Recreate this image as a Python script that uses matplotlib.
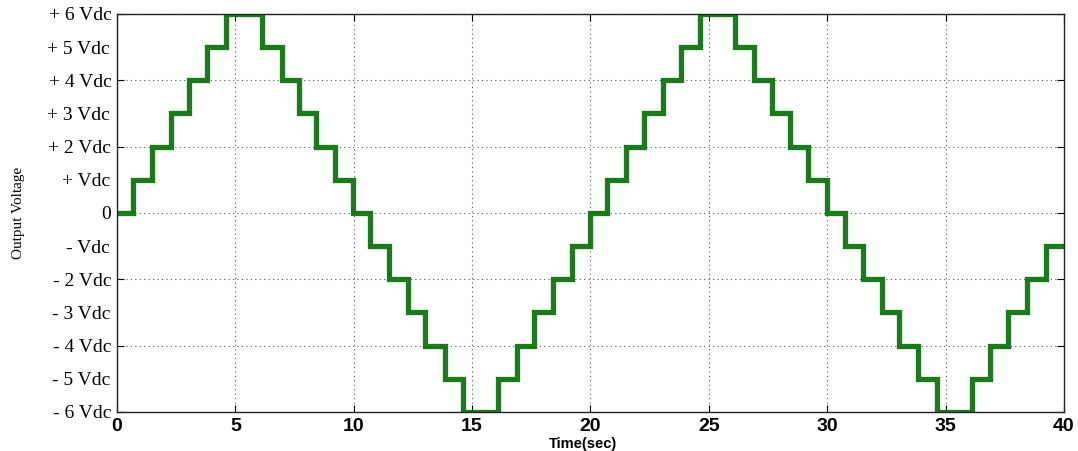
import numpy as np
import matplotlib.pyplot as plt

# ------------------------------------------------------------------------------
# staircase output voltage (levels in multiples of Vdc), switching instants in sec

switch_times = [0.69, 1.46, 2.27, 3.04, 3.79, 4.59,
                6.11, 6.96, 7.69, 8.39, 9.21, 9.96,
                10.69, 11.50, 12.30, 13.01, 13.85, 14.63,
                16.11, 16.88, 17.61, 18.40, 19.20, 19.98,
                20.71, 21.50, 22.27, 23.08, 23.81, 24.63,
                26.10, 26.90, 27.65, 28.43, 29.20, 29.98,
                30.75, 31.50, 32.30, 33.04, 33.85, 34.62,
                36.13, 36.87, 37.65, 38.45, 39.23]
levels = [0, 1, 2, 3, 4, 5, 6,
          5, 4, 3, 2, 1, 0,
          -1, -2, -3, -4, -5, -6,
          -5, -4, -3, -2, -1, 0,
          1, 2, 3, 4, 5, 6,
          5, 4, 3, 2, 1, 0,
          -1, -2, -3, -4, -5, -6,
          -5, -4, -3, -2, -1]

y_levels = [6, 5, 4, 3, 2, 1, 0, -1, -2, -3, -4, -5, -6]
y_labels = ['+ 6 Vdc', '+ 5 Vdc', '+ 4 Vdc', '+ 3 Vdc', '+ 2 Vdc', '+ Vdc', '0',
            '- Vdc', '- 2 Vdc', '- 3 Vdc', '- 4 Vdc', '- 5 Vdc', '- 6 Vdc']
x_ticks = [0, 5, 10, 15, 20, 25, 30, 35, 40]

# ------------------------------------------------------------------------------

t = [0.0] + switch_times + [40.0]
v = levels + [levels[-1]]

fig = plt.figure(figsize=(10.78, 4.51), dpi=100)
ax = fig.add_axes([0.1085, 0.0865, 0.8785, 0.8825])

ax.step(t, v, where='post', color='#1b7a1b', linewidth=3.8, solid_joinstyle='miter')

ax.set_xlim(0, 40)
ax.set_ylim(-6, 6)

# even levels carry ticks + grid, odd levels only labels
major = [y for y in y_levels if y % 2 == 0]
minor = [y for y in y_levels if y % 2 != 0]
ax.set_yticks(major)
ax.set_yticklabels([y_labels[y_levels.index(y)] for y in major],
                   family='Liberation Serif', fontsize=14)
ax.set_yticks(minor, minor=True)
ax.set_yticklabels([y_labels[y_levels.index(y)] for y in minor], minor=True,
                   family='Liberation Serif', fontsize=14)
ax.tick_params(axis='y', which='minor', length=0, pad=5)

ax.set_xticks(x_ticks)
ax.set_xticklabels([str(x) for x in x_ticks], family='Liberation Sans',
                   fontweight='bold', fontsize=14)

ax.tick_params(which='major', direction='in', length=5, width=0.8,
               top=True, right=True, pad=4)
ax.grid(True, which='major', linestyle=(0, (1, 3)), color='#555555', linewidth=0.8)

for s in ax.spines.values():
    s.set_linewidth(1.0)
    s.set_color('#222222')

ax.set_ylabel('Output Voltage', family='Liberation Serif', fontsize=11)
ax.yaxis.set_label_coords(-0.097, 0.5)
fig.text(0.541, 0.0, 'Time(sec)', family='Liberation Sans', fontweight='bold',
         fontsize=10.5, ha='center', va='bottom')

fig.savefig('out.png', dpi=100)
